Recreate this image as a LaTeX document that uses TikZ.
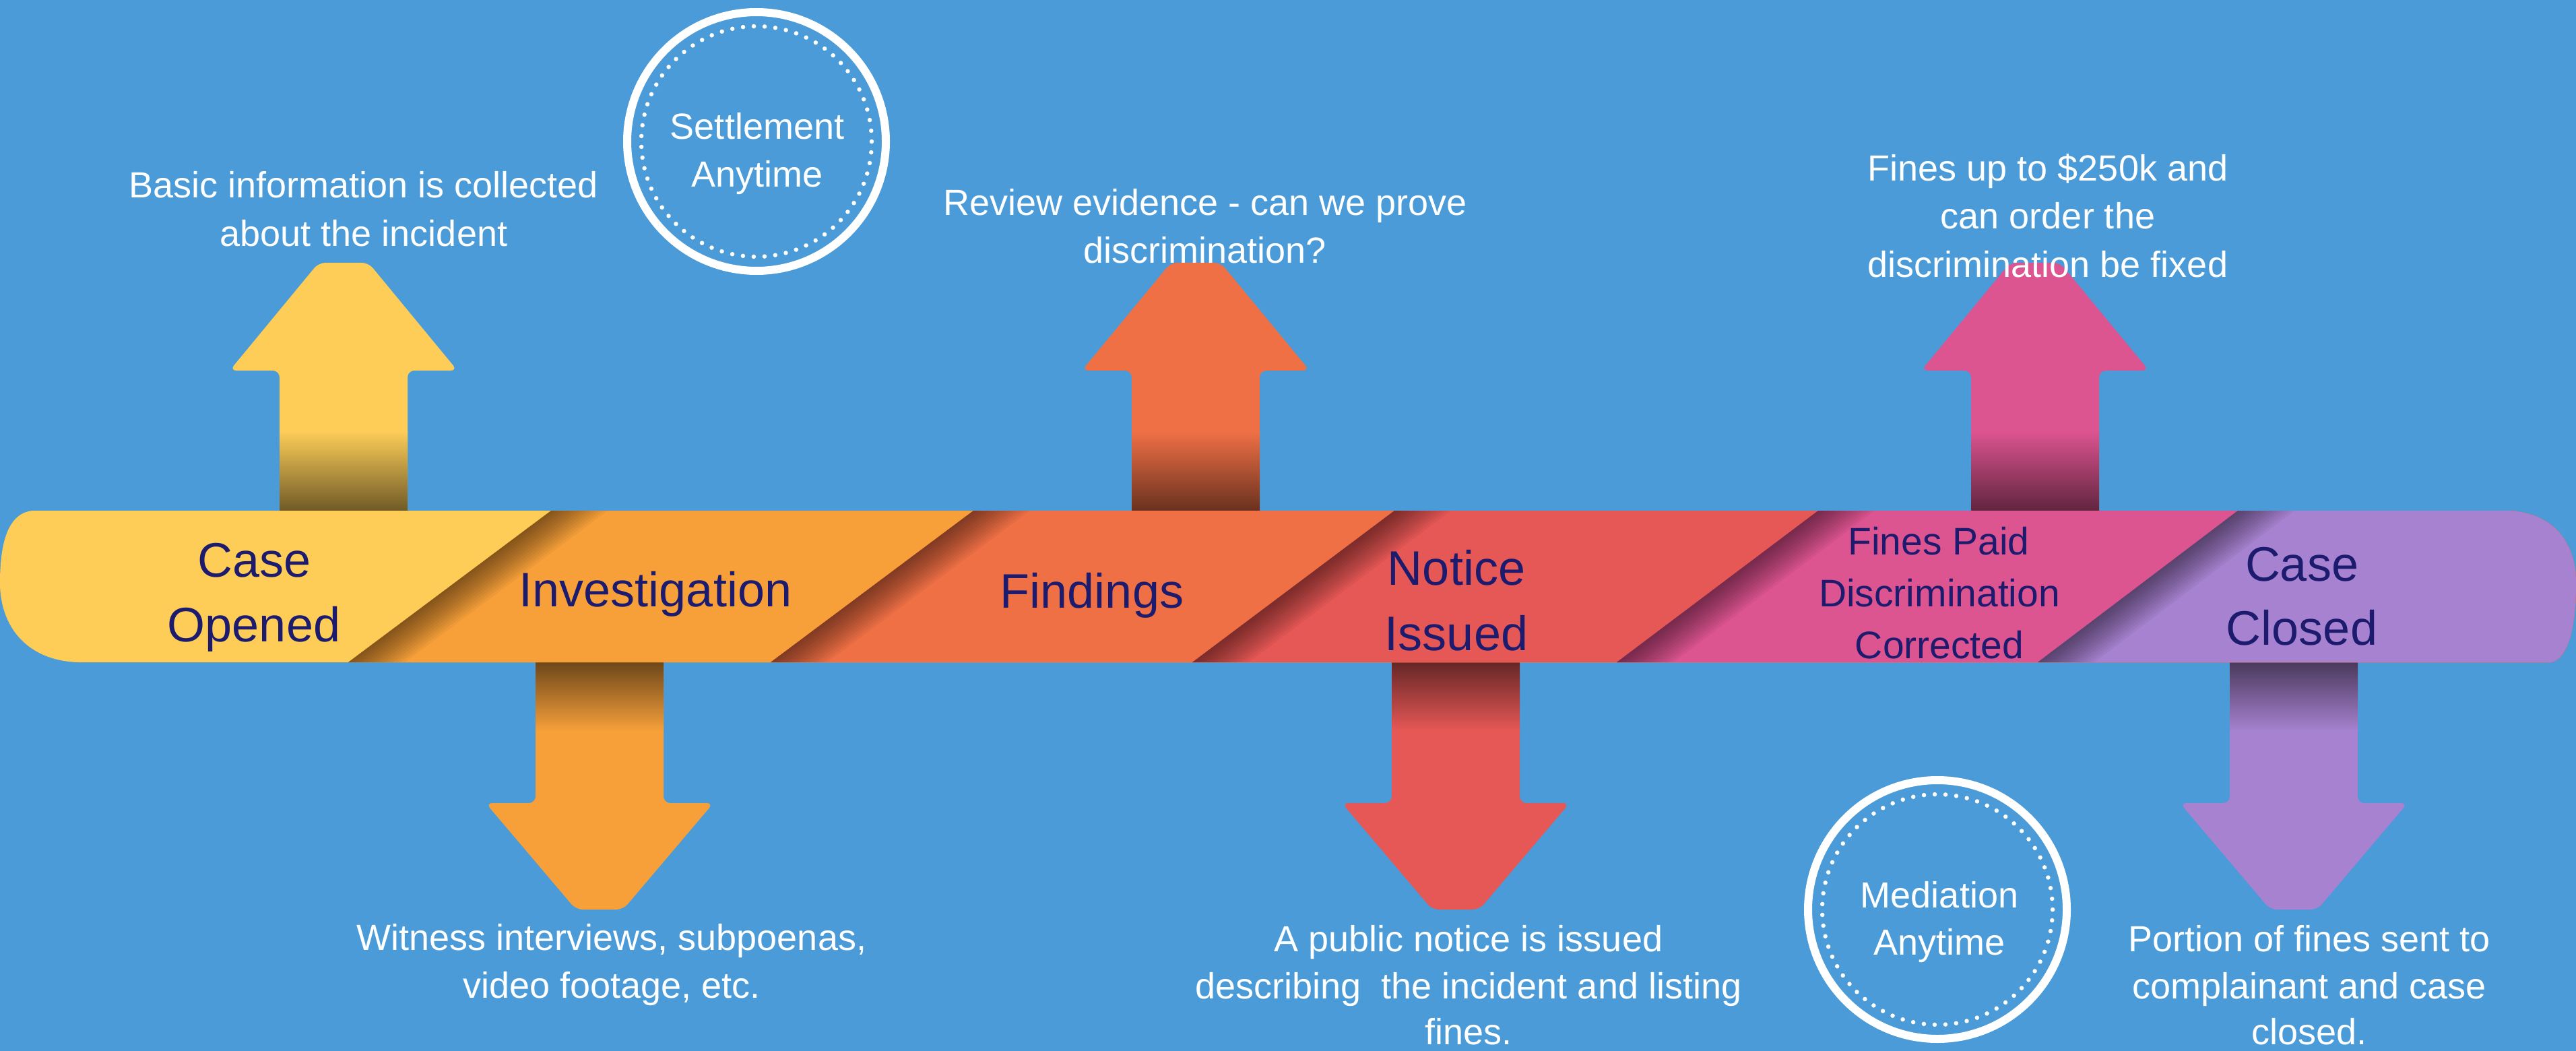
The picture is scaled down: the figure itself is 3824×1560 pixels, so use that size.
\documentclass[tikz,border=0pt]{standalone}
\usepackage{fontspec}
\setmainfont{Liberation Sans}
\definecolor{bgblue}{RGB}{74,155,216}
\definecolor{cyel}{RGB}{253,205,88}
\definecolor{corg}{RGB}{247,160,58}
\definecolor{cfnd}{RGB}{240,112,70}
\definecolor{cnot}{RGB}{230,88,86}
\definecolor{cfin}{RGB}{220,84,144}
\definecolor{ccls}{RGB}{167,130,208}
\definecolor{navy}{RGB}{28,27,110}
\tikzset{
  desc/.style={text=white, font=\fontsize{54}{64}\selectfont, anchor=base, inner sep=0pt},
  lab/.style={text=navy, font=\fontsize{72}{86}\selectfont, anchor=base, inner sep=0pt},
  labsm/.style={text=navy, font=\fontsize{57}{68}\selectfont, anchor=base, inner sep=0pt},
  ringnode/.style={circle, draw=white, line width=12pt, minimum size=384pt, inner sep=0pt},
  dotnode/.style={circle, draw=white, line width=6.5pt, line cap=round, dash pattern=on 0pt off 16.036pt, minimum size=342pt, inner sep=0pt},
}
\newcommand\UpArr[2]{%
  \fill[#2, rounded corners=10pt] (#1-95,780) -- (#1-95,550) -- (#1-169,550) -- (#1-37,390) -- (#1+37,390) -- (#1+169,550) -- (#1+95,550) -- (#1+95,780) -- cycle;
  \shade[top color=#2, bottom color=#2!42!black] (#1-95,640) rectangle (#1+95,762);
}
\newcommand\DownArr[2]{%
  \fill[#2, rounded corners=10pt] (#1-95,960) -- (#1-95,1192) -- (#1-169,1192) -- (#1-35,1350) -- (#1+35,1350) -- (#1+169,1192) -- (#1+95,1192) -- (#1+95,960) -- cycle;
  \shade[top color=#2!42!black, bottom color=#2] (#1-95,979) rectangle (#1+95,1085);
}
\begin{document}
\begin{tikzpicture}[x=1pt,y=-1pt]
\fill[bgblue] (0,0) rectangle (3824,1560);
\useasboundingbox (0,0) rectangle (3824,1560);

% arrows
\UpArr{510}{cyel}
\UpArr{1775}{cfnd}
\UpArr{3021}{cfin}
\DownArr{890}{corg}
\DownArr{2161}{cnot}
\DownArr{3405}{ccls}

% band
\begin{scope}
\path[clip] (48,758) -- (3724,758) .. controls (3795,762) and (3824,810) .. (3824,865)
  .. controls (3824,930) and (3812,978) .. (3787,983) -- (115,983)
  .. controls (40,980) and (0,930) .. (0,865) .. controls (0,805) and (12,762) .. (48,758) -- cycle;
\fill[cyel] (-10,740) rectangle (3834,1000);
\foreach \xt/\xb/\c in {818/517/corg, 1445/1144/cfnd, 2070/1770/cnot, 2699/2400/cfin, 3322/3025/ccls}{
  \fill[\c] (\xt,758) -- (3834,758) -- (3834,983) -- (\xb,983) -- cycle;
  \foreach \k in {1,...,14}{
    \fill[black, opacity=0.038] (\xt,758) -- (\xt+6*\k,758) -- (\xb+6*\k,983) -- (\xb,983) -- cycle;
  }
}
\end{scope}

% circles
\node[ringnode] (settle) at (1123,210) {};
\node[dotnode] (settledots) at (1123,210) {};
\node[desc] (settle1) at (1124,206) {Settlement};
\node[desc] (settle2) at (1124,277) {Anytime};
\node[ringnode] (mediate) at (2876,1350) {};
\node[dotnode] (mediatedots) at (2876,1350) {};
\node[desc] (mediate1) at (2879,1347) {Mediation};
\node[desc] (mediate2) at (2879,1417) {Anytime};

% band labels
\node[lab] (open1) at (378,856) {Case};
\node[lab] (open2) at (377,952) {Opened};
\node[lab] (inv) at (973,900) {Investigation};
\node[lab] (find) at (1621,902) {Findings};
\node[lab] (not1) at (2162,868) {Notice};
\node[lab] (not2) at (2162,965) {Issued};
\node[labsm] (fin1) at (2878,823) {Fines Paid};
\node[labsm] (fin2) at (2879,900) {Discrimination};
\node[labsm] (fin3) at (2879,977) {Corrected};
\node[lab] (cls1) at (3417,862) {Case};
\node[lab] (cls2) at (3417,957) {Closed};

% descriptions
\node[desc] (d1a) at (540,293) {Basic information is collected};
\node[desc] (d1b) at (540,365) {about the incident};
\node[desc] (d3a) at (1789,319) {Review evidence - can we prove};
\node[desc] (d3b) at (1789,390) {discrimination?};
\node[desc] (d5a) at (3040,268) {Fines up to \$250k and};
\node[desc] (d5b) at (3040,339) {can order the};
\node[desc] (d5c) at (3040,411) {discrimination be fixed};
\node[desc] (d2a) at (908,1410) {Witness interviews, subpoenas,};
\node[desc] (d2b) at (908,1481) {video footage, etc.};
\node[desc] (d4a) at (2180,1412) {A public notice is issued};
\node[desc] (d4b) at (2180,1482) {describing\ \ the incident and listing};
\node[desc] (d4c) at (2180,1550) {fines.};
\node[desc] (d6a) at (3428,1412) {Portion of fines sent to};
\node[desc] (d6b) at (3428,1482) {complainant and case};
\node[desc] (d6c) at (3428,1550) {closed.};
\end{tikzpicture}
\end{document}
